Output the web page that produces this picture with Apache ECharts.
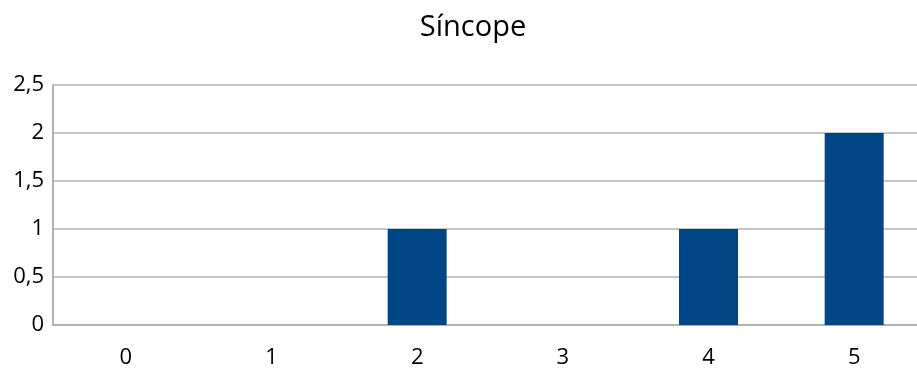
<!DOCTYPE html>
<html>
<head>
<meta charset="utf-8">
<script src="https://cdn.jsdelivr.net/npm/echarts@6/dist/echarts.min.js"></script>
<style>
  html, body { margin: 0; padding: 0; background: #ffffff; overflow: hidden; }
  /* the canvas is a little wider than the window, so the plot runs off the right edge */
  #chart { width: 927px; height: 374px; }
</style>
</head>
<body>
<div id="chart"></div>
<script>
// Episodes of syncope by count category
const titleText = 'Síncope';
const categories = ['0', '1', '2', '3', '4', '5'];
const values = [0, 0, 1, 0, 1, 2];

const chart = echarts.init(document.getElementById('chart'));
const fontFamily = '"Open Sans", "Noto Sans", sans-serif';

chart.setOption({
  animation: false,
  title: {
    text: titleText,
    left: 468,
    textAlign: 'center',
    top: 8,
    textStyle: { fontFamily, fontSize: 29, fontWeight: 'normal', color: '#000000' }
  },
  grid: { left: 53, right: 0, top: 85, height: 240, containLabel: false },
  xAxis: {
    type: 'category',
    data: categories,
    axisLine: { show: true, lineStyle: { color: '#b3b3b3', width: 2 } },
    axisTick: { show: false },
    axisLabel: { fontFamily, fontSize: 22, color: '#000000', margin: 22 },
    splitLine: { show: false }
  },
  yAxis: {
    type: 'value',
    min: 0,
    max: 2.5,
    interval: 0.5,
    axisLine: { show: true, lineStyle: { color: '#b3b3b3', width: 2 } },
    axisTick: { show: false },
    axisLabel: {
      fontFamily, fontSize: 22, color: '#000000', margin: 9,
      formatter: v => String(v).replace('.', ',')
    },
    splitLine: { show: true, lineStyle: { color: '#b3b3b3', width: 1.5 } }
  },
  series: [{
    type: 'bar',
    data: values,
    barWidth: '40.5%',
    itemStyle: { color: '#004586' }
  }]
});
</script>
</body>
</html>
